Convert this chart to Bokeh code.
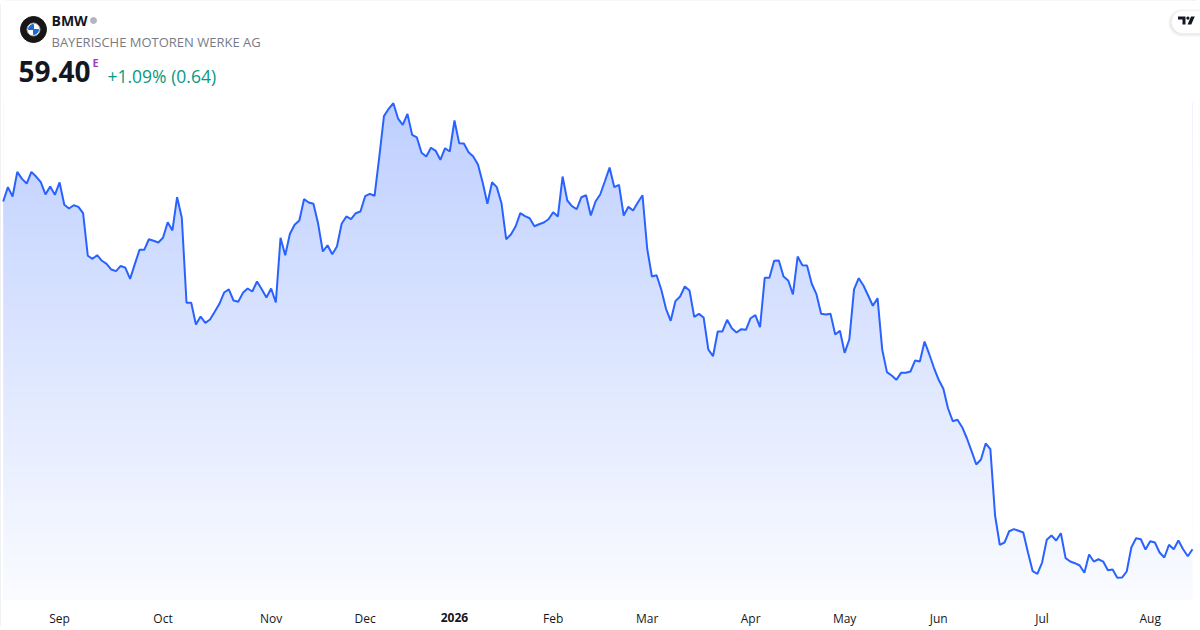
import numpy as np
from bokeh.plotting import figure
from bokeh.models import Range1d, FixedTicker, Label, BoxAnnotation, PolyAnnotation
from bokeh.embed import file_html
from bokeh.resources import INLINE

# ---------------- data ----------------
prices = [
    91.18, 92.49, 91.64, 93.89, 93.25, 92.82, 93.89, 93.46, 92.94, 91.82,
    92.55, 91.79, 92.92, 90.88, 90.54, 90.84, 90.69, 90.11, 86.22, 85.94,
    86.27, 85.76, 85.48, 84.96, 84.81, 85.30, 85.12, 84.11, 85.45, 86.76,
    86.76, 87.73, 87.59, 87.43, 87.86, 89.29, 88.53, 91.57, 89.69, 81.92,
    81.92, 79.94, 80.67, 80.09, 80.39, 81.10, 81.83, 82.86, 83.14, 82.13,
    82.01, 82.83, 83.23, 82.95, 83.87, 83.16, 82.40, 83.23, 81.95, 87.86,
    86.27, 88.23, 89.05, 89.44, 91.39, 91.09, 90.97, 89.14, 86.61, 87.18,
    86.36, 87.07, 89.14, 89.81, 89.56, 90.11, 90.26, 91.66, 91.88, 91.70,
    95.23, 98.98, 99.65, 100.16, 98.76, 98.19, 99.19, 97.27, 97.03, 95.63,
    95.29, 96.09, 95.81, 94.99, 96.05, 95.75, 98.58, 96.51, 96.48, 95.68,
    95.29, 94.56, 92.92, 90.97, 92.94, 92.49, 91.02, 87.73, 88.16, 88.89,
    90.11, 89.84, 89.65, 88.92, 89.10, 89.26, 89.56, 90.20, 89.81, 93.46,
    91.27, 90.75, 90.47, 91.57, 91.75, 89.90, 91.18, 91.82, 93.03, 94.29,
    92.49, 92.70, 89.90, 90.69, 90.36, 91.09, 91.75, 86.86, 84.32, 84.44,
    83.11, 81.37, 80.27, 82.07, 82.50, 83.41, 83.04, 80.64, 80.91, 80.58,
    77.65, 77.04, 79.30, 79.30, 80.37, 79.60, 79.21, 79.51, 79.45, 80.51,
    80.79, 79.69, 84.20, 84.20, 85.76, 85.79, 84.32, 83.96, 82.68, 86.15,
    85.36, 85.33, 83.66, 82.71, 80.91, 80.85, 80.91, 79.02, 79.36, 77.35,
    78.59, 83.14, 84.17, 83.50, 82.59, 81.65, 82.34, 77.62, 75.58, 75.27,
    74.88, 75.52, 75.52, 75.64, 76.65, 76.55, 78.38, 77.22, 75.98, 74.88,
    74.06, 72.26, 71.10, 71.23, 70.55, 69.54, 68.36, 67.14, 67.60, 69.06,
    68.54, 62.48, 59.80, 60.01, 61.04, 61.23, 61.08, 60.93, 59.10, 57.39,
    57.15, 58.18, 60.26, 60.65, 60.19, 60.86, 58.58, 58.27, 58.12, 57.91,
    57.24, 58.91, 58.27, 58.48, 58.27, 57.48, 57.54, 56.78, 56.81, 57.36,
    59.58, 60.40, 60.31, 59.37, 60.13, 60.01, 59.10, 58.64, 59.80, 59.40,
    60.19, 59.40, 58.76, 59.40,
]
day_index = list(range(len(prices)))

tick_index = [12, 34, 57, 77, 96, 117, 137, 159, 179, 199, 221, 244]
tick_labels = ["Sep", "Oct", "Nov", "Dec", "2026", "Feb", "Mar", "Apr", "May", "Jun", "Jul", "Aug"]
bold_tick = "2026"

symbol = "BMW"
company = "BAYERISCHE MOTOREN WERKE AG"
last_price = "59.40"
change_text = "+1.09% (0.64)"

# ---------------- layout helpers (pixel -> data) ----------------
W, H = 1200, 630
X0, X1 = -0.57, 254.70
Y1 = 109.55
PX_PER_Y = 0.0914          # price units per pixel
Y0 = Y1 - PX_PER_Y * H


def XD(px):
    return X0 + px * (X1 - X0) / W


def YD(py):
    return Y1 - py * PX_PER_Y


FONT = "Open Sans"

p = figure(width=W, height=H, output_backend="svg", toolbar_location=None,
           x_range=Range1d(X0, X1), y_range=Range1d(Y0, Y1),
           y_axis_location=None, min_border_left=0, min_border_right=0,
           min_border_top=0, min_border_bottom=0)
p.background_fill_color = "white"
p.border_fill_color = "white"
p.outline_line_color = None
p.grid.visible = False
p.styles = {"outline": "1px solid #dfe2e8", "outline-offset": "-1px", "border-radius": "6px"}

# gradient area under the line
N = 400
img = np.empty((N, 1), dtype=np.uint32)
view = img.view(dtype=np.uint8).reshape((N, 1, 4))
frac = np.linspace(0.0, 1.0, N)
alpha = 0.02 + 0.28 * frac
view[:, 0, 0] = (255 - alpha * (255 - 41)).astype(np.uint8)
view[:, 0, 1] = (255 - alpha * (255 - 98)).astype(np.uint8)
view[:, 0, 2] = 255
view[:, 0, 3] = 255
bottom_g = YD(599)
top_g = YD(102)
p.image_rgba(image=[img], x=day_index[0], y=bottom_g, dw=day_index[-1] - day_index[0], dh=top_g - bottom_g)
# mask above the line
p.varea(x=day_index, y1=prices, y2=Y1 + 5, fill_color="white")
p.line(day_index, prices, line_color="#2962ff", line_width=2)

# x axis (drawn inside the frame at a fixed location)
ax = p.xaxis[0]
ax.fixed_location = YD(599)
ax.ticker = FixedTicker(ticks=[t for t, l in zip(tick_index, tick_labels) if l != bold_tick])
ax.major_label_overrides = {t: l for t, l in zip(tick_index, tick_labels)}
ax.axis_line_color = None
ax.major_tick_line_color = None
ax.minor_tick_line_color = None
ax.major_tick_out = 0
ax.major_tick_in = 0
ax.major_label_standoff = 10
ax.major_label_text_font = FONT
ax.major_label_text_font_size = "12px"
ax.major_label_text_color = "#131722"
for t, l in zip(tick_index, tick_labels):
    if l == bold_tick:
        p.add_layout(Label(x=t, y=YD(617), text=l, text_align="center", text_baseline="middle",
                           text_font=FONT, text_font_size="12px", text_font_style="bold",
                           text_color="#131722"))

# header
p.scatter([XD(33)], [YD(29)], size=26, color="#161616")
p.scatter([XD(33)], [YD(29)], size=13, fill_color="white", line_color="#9aa0a8", line_width=1)
p.wedge([XD(33)], [YD(29)], radius=5, radius_units="screen", start_angle=np.pi / 2,
        end_angle=np.pi, color="#1c69d4")
p.wedge([XD(33)], [YD(29)], radius=5, radius_units="screen", start_angle=1.5 * np.pi,
        end_angle=2 * np.pi, color="#1c69d4")
p.scatter([XD(93)], [YD(20)], size=6, color="#b2b5be")

p.add_layout(Label(x=XD(51), y=YD(20), text=symbol, text_baseline="middle", text_font=FONT,
                   text_font_size="14px", text_font_style="bold", text_color="#131722"))
p.add_layout(Label(x=XD(51), y=YD(41), text=company, text_baseline="middle", text_font=FONT,
                   text_font_size="13px", text_color="#787b86"))
p.add_layout(Label(x=XD(18), y=YD(71), text=last_price, text_baseline="middle", text_font=FONT,
                   text_font_size="28px", text_font_style="bold", text_color="#131722"))
p.add_layout(Label(x=XD(92), y=YD(62), text="E", text_baseline="middle", text_font=FONT,
                   text_font_size="11px", text_font_style="bold", text_color="#a040c0"))
p.add_layout(Label(x=XD(107), y=YD(75), text=change_text, text_baseline="middle", text_font=FONT,
                   text_font_size="17.5px", text_color="#089981"))

# TradingView badge (soft shadow + white pill)
p.add_layout(BoxAnnotation(left=XD(1168), right=XD(1240), top=YD(9), bottom=YD(36),
                           fill_color="#000000", fill_alpha=0.05, line_color=None,
                           border_radius=14))
p.add_layout(BoxAnnotation(left=XD(1170), right=XD(1240), top=YD(10), bottom=YD(34),
                           fill_color="#000000", fill_alpha=0.05, line_color=None,
                           border_radius=12))
p.add_layout(BoxAnnotation(left=XD(1171), right=XD(1240), top=YD(10), bottom=YD(33),
                           fill_color="white", fill_alpha=1, line_color="#e6e8ec",
                           line_width=1, border_radius=12))
p.add_layout(PolyAnnotation(xs=[XD(1177.5), XD(1185), XD(1185), XD(1182), XD(1182), XD(1177.5)],
                            ys=[YD(16), YD(16), YD(24), YD(24), YD(19), YD(19)],
                            fill_color="#131722", fill_alpha=1, line_color=None))
dot_a = np.linspace(0, 2 * np.pi, 12, endpoint=False)
p.add_layout(PolyAnnotation(xs=[XD(1187.4 + 1.6 * np.cos(a)) for a in dot_a],
                            ys=[YD(17.6 + 1.6 * np.sin(a)) for a in dot_a],
                            fill_color="#131722", fill_alpha=1, line_color=None))
p.add_layout(PolyAnnotation(xs=[XD(1190.5), XD(1194.3), XD(1190.8), XD(1187)],
                            ys=[YD(16), YD(16), YD(24), YD(24)],
                            fill_color="#131722", fill_alpha=1, line_color=None))

open("out.html", "w").write(file_html(p, INLINE))
